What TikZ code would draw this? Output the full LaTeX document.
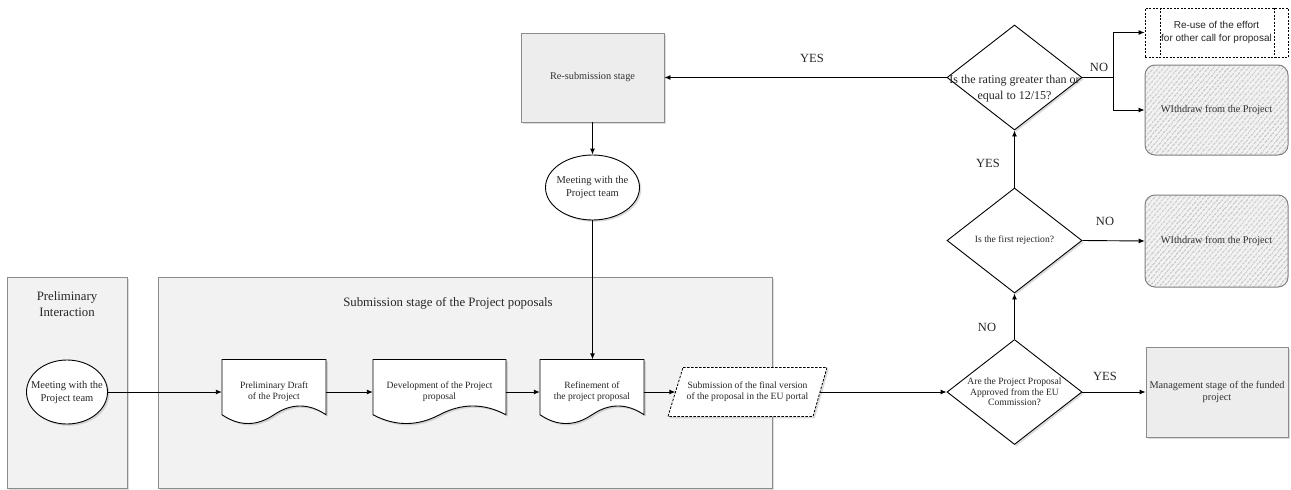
\documentclass[tikz,border=0pt]{standalone}
\usepackage{fontspec}
\setmainfont{Liberation Serif}
\newfontfamily\arialfont{Liberation Sans}
\usetikzlibrary{arrows.meta,shapes.geometric,shadows,calc,patterns.meta}

% zero-width line, so long labels do not enlarge their shape
\newcommand\zw[1]{\makebox[0pt]{#1}}
\newcommand\fsz[2]{\fontsize{#1}{#2}\selectfont}

\tikzset{
  conn/.style={draw=black, line width=0.9pt, -{Latex[length=6pt,width=5pt]}},
  plainline/.style={draw=black, line width=0.9pt},
  shad/.style={drop shadow={shadow xshift=1.8pt, shadow yshift=-1.8pt, opacity=0.28}},
  lane/.style={rectangle, draw=black!45, line width=0.9pt, fill=black!5, inner sep=0pt, anchor=north west, shad},
  lanetitle/.style={font=\fsz{12.8}{16}, align=center, text=black!85},
  stage/.style={rectangle, draw=black!45, line width=0.9pt, fill=black!7, inner sep=0pt, align=center, font=\fsz{10.3}{12}, text=black!80, shad},
  meet/.style={ellipse, draw=black, line width=0.9pt, fill=white, inner sep=0pt, align=center, font=\fsz{10.5}{13}, text=black!85, shad},
  docline/.style={draw=black, line width=0.9pt, fill=white, shad},
  sendline/.style={draw=black, line width=0.8pt, dash pattern=on 2.5pt off 1.5pt, fill=white, shad},
  doctext/.style={rectangle, inner sep=0pt, align=center, font=\fsz{9.6}{11}, text=black!85},
  decide/.style={diamond, draw=black, line width=0.9pt, fill=white, inner sep=0pt, minimum width=135pt, minimum height=105pt, align=center, font=\fsz{9.6}{10.7}, text=black!85, shad},
  withdraw/.style={rectangle, rounded corners=10pt, draw=black!50, line width=1pt, preaction={fill=black!5}, pattern={Lines[angle=50,distance=4pt,line width=0.6pt]}, pattern color=black!45, inner sep=0pt, minimum width=143pt, font=\fsz{10.3}{12}, text=black!80},
  reuse/.style={rectangle, draw=black, line width=0.8pt, dash pattern=on 2pt off 1.5pt, fill=white, inner sep=0pt, align=center, font=\arialfont\fsz{10}{12.5}, text=black!85},
  reusebar/.style={draw=black, line width=0.8pt, dash pattern=on 2pt off 1.5pt},
  answer/.style={font=\fsz{12.5}{14}, text=black!85},
}

% document shape with a wavy lower edge: name, centre x, centre y, width, height, text
\newcommand\docshape[6]{%
  \pgfmathsetmacro\dl{#2-#4/2}\pgfmathsetmacro\dr{#2+#4/2}%
  \pgfmathsetmacro\dt{#3-#5/2}\pgfmathsetmacro\db{#3+#5/2}%
  \pgfmathsetmacro\dys{0.3*#5}%
  \pgfmathsetmacro\ys{\db-\dys/2}%
  \pgfmathsetmacro\yu{\ys-0.6*\dys}\pgfmathsetmacro\yd{\ys+0.6*\dys}%
  \pgfmathsetmacro\xa{\dl+5*#4/6}\pgfmathsetmacro\xb{\dl+2*#4/3}%
  \pgfmathsetmacro\xc{\dl+#4/2}\pgfmathsetmacro\xd{\dl+#4/3}\pgfmathsetmacro\xe{\dl+#4/6}%
  \path[docline] (\dl,\dt) -- (\dr,\dt) -- (\dr,\ys)
     .. controls (\xa,\yu) and (\xb,\yu) .. (\xc,\ys)
     .. controls (\xd,\yd) and (\xe,\yd) .. (\dl,\ys) -- cycle;
  \node[doctext, minimum width=#4pt, minimum height=#5pt] (#1) at (#2,#3) {#6};
}

\begin{document}
\begin{tikzpicture}[x=1pt,y=-1pt]
\useasboundingbox (0,0) rectangle (1291,490);
\fill[white] (0,0) rectangle (1291,490);

% swimlanes
\node[lane, minimum width=120pt, minimum height=211pt] (laneA) at (7,277) {};
\node[lane, minimum width=614pt, minimum height=211pt] (laneB) at (158,277) {};
\node[lanetitle] (laneAt) at (67,304) {Preliminary\\Interaction};
\node[lanetitle] (laneBt) at (448,303) {Submission stage of the Project poposals};

% first meeting and the drafting documents
\node[meet, minimum width=81pt, minimum height=64pt] (e1) at (67,392) {\zw{Meeting with the}\\\zw{Project team}};
\docshape{d1}{274}{392}{104}{65}{Preliminary Draft\\of the Project}
\docshape{d2}{439.5}{392}{133}{65}{Development of the Project\\proposal}
\docshape{d3}{592}{392}{104}{65}{Refinement of\\the project proposal}

% submission in the portal (parallelogram)
\path[sendline] (683,367.5) -- (827,367.5) -- (813,416.5) -- (668,416.5) -- cycle;
\node[doctext, minimum width=159pt, minimum height=49pt] (p1) at (747.5,392) {Submission of the final version\\of the proposal in the EU portal};

% decisions
\node[decide] (q1) at (1014.5,392) {\zw{Are the Project Proposal}\\\zw{Approved from the EU}\\\zw{Commission?}};
\node[decide] (q2) at (1014.5,240.5) {\zw{Is the first rejection?}};
\node[decide] (q3) at (1014.5,77.5) {};
\node[align=center, font=\fsz{12}{16}, text=black!85, inner sep=0pt] (q3t) at (1014.5,89) {\zw{Is the rating greater than or}\\\zw{equal to 12/15?}};

% outcomes
\node[stage, minimum width=142pt, minimum height=90pt] (mg) at (1217,392) {Management stage of the funded\\project};
\node[withdraw, minimum height=92pt] (w1) at (1216.5,241) {WIthdraw from the Project};
\node[withdraw, minimum height=90pt] (w2) at (1216.5,110) {WIthdraw from the Project};
\node[reuse, minimum width=143pt, minimum height=49pt] (r1) at (1216.5,32.5) {Re-use of the effort\\for other call for proposal};
\draw[reusebar] ($(r1.north west)+(16pt,0)$) -- ($(r1.south west)+(16pt,0)$);
\draw[reusebar] ($(r1.north east)+(-14pt,0)$) -- ($(r1.south east)+(-14pt,0)$);

% re-submission loop
\node[stage, minimum width=143pt, minimum height=89pt] (rs) at (592.5,77.5) {Re-submission stage};
\node[meet, minimum width=94pt, minimum height=65pt] (e2) at (592.5,187.5) {\zw{Meeting with the}\\\zw{Project team}};

% connectors
\draw[conn] (e1.east) -- (d1.west);
\draw[conn] (d1.east) -- (d2.west);
\draw[conn] (d2.east) -- (d3.west);
\draw[conn] (d3.east) -- ($(p1.west)+(7.5pt,0)$);
\draw[conn] ($(p1.east)+(-7.5pt,0)$) -- (q1.west);
\draw[conn] (q1.east) -- (mg.west);
\draw[conn] (q1.north) -- (q2.south);
\draw[conn] (q2.east) -- (w1.west);
\draw[conn] (q2.north) -- (q3.south);
\draw[conn] (q3.west) -- (rs.east);
\coordinate (br) at (1113,77.5);
\draw[plainline] (q3.east) -- (br);
\draw[conn] (br) |- (r1.west);
\draw[conn] (br) |- (w2.west);
\draw[conn] (rs.south) -- (e2.north);
\draw[conn] (e2.south) -- (e2.south |- d3.north);

% answer labels
\node[answer] (aYes1) at (1105,376) {YES};
\node[answer] (aNo1) at (987,327) {NO};
\node[answer] (aNo2) at (1105,221) {NO};
\node[answer] (aYes2) at (988,163) {YES};
\node[answer] (aYes3) at (812,58) {YES};
\node[answer] (aNo3) at (1099,67) {NO};
\end{tikzpicture}
\end{document}
